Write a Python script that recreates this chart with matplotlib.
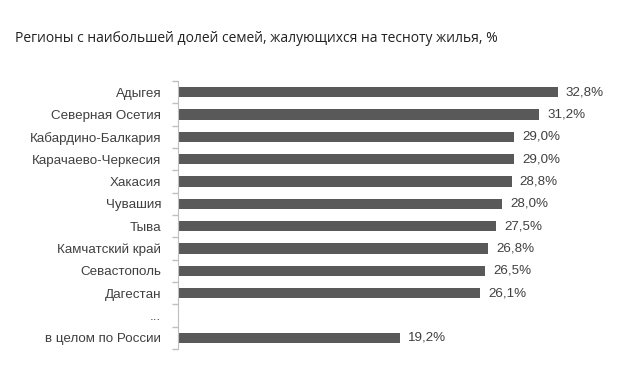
import numpy as np
import matplotlib
matplotlib.use('Agg')
import matplotlib.pyplot as plt
import matplotlib.ticker as ticker

# data
regions=['Адыгея','Северная Осетия','Кабардино-Балкария','Карачаево-Черкесия','Хакасия',
         'Чувашия','Тыва','Камчатский край','Севастополь','Дагестан','...','в целом по России']
values=[32.8,31.2,29.0,29.0,28.8,28.0,27.5,26.8,26.5,26.1,None,19.2]
title='Регионы с наибольшей долей семей, жалующихся на тесноту жилья, %'

plt.rcParams['font.family']=['Liberation Sans','DejaVu Sans']

fig=plt.figure(figsize=(6.28,3.76),dpi=100)
ax=fig.add_axes([178/628,27/376,422/628,268/376])

ypos=np.arange(len(regions))
for y,v in zip(ypos,values):
    if v is None:
        continue
    ax.barh(y,v,height=0.45,color='#595959',edgecolor='none')
    ax.text(v+0.7,y,('%.1f%%' % v).replace('.',','),va='center',ha='left',
            fontsize=9.6,color='#404040')

ax.set_xlim(0,422/11.58)
ax.set_ylim(len(regions)-0.5,-0.5)
ax.set_yticks(ypos)
ax.set_yticklabels(regions,fontsize=9.6,color='#404040')
ax.yaxis.set_minor_locator(ticker.FixedLocator(np.arange(-0.5,len(regions),1)))
ax.tick_params(axis='y',which='major',length=0,pad=12)
ax.tick_params(axis='y',which='minor',length=4,color='#bfbfbf',width=1)
ax.set_xticks([])
for s in ['top','right','bottom']:
    ax.spines[s].set_visible(False)
ax.spines['left'].set_color('#bfbfbf')

fig.text(15/628,1-39/376,title,fontsize=10,color='#222222',va='center',ha='left',
         family=['Open Sans','DejaVu Sans'])

fig.savefig('out.png',dpi=100)
